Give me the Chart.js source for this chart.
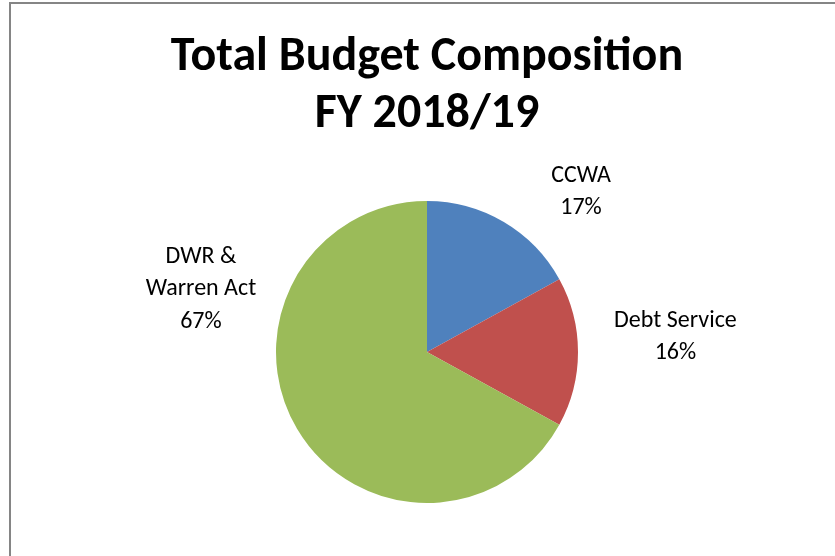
<!DOCTYPE html>
<html>
<head>
<meta charset="utf-8">
<script src="https://cdn.jsdelivr.net/npm/chart.js@4/dist/chart.umd.min.js"></script>
<style>
  html, body { margin: 0; padding: 0; background: #ffffff; overflow: hidden; }
  #wrap { position: relative; width: 835px; height: 556px; }
  #frame { position: absolute; left: 9px; top: 2px; width: 900px; height: 600px;
           border: 2px solid #858585; box-sizing: border-box; pointer-events: none; }
  canvas { position: absolute; left: 0; top: 0; }
</style>
</head>
<body>
<div id="wrap">
  <canvas id="c" width="835" height="556"></canvas>
  <div id="frame"></div>
</div>
<script>
const categories = ["CCWA", "Debt Service", "DWR & Warren Act"];
const labelLines = [["CCWA"], ["Debt Service"], ["DWR &", "Warren Act"]];
const values = [17, 16, 67];
const titleLines = ["Total Budget Composition", "FY 2018/19"];

const colors = ["#4F81BD", "#C0504D", "#9BBB59"];

const outsideLabels = {
  id: "outsideLabels",
  afterDatasetsDraw(chart, args, opts) {
    const ctx = chart.ctx;
    const meta = chart.getDatasetMeta(0);
    const total = values.reduce((a, b) => a + b, 0);
    ctx.save();
    ctx.font = opts.font;
    ctx.fillStyle = "#000000";
    ctx.textAlign = "center";
    ctx.textBaseline = "middle";
    meta.data.forEach((arc, i) => {
      const r = arc.outerRadius;
      const off = opts.offsets[i];
      const cx = arc.x + off[0] * r;
      const cy = arc.y + off[1] * r;
      const lines = labelLines[i].concat([Math.round(values[i] / total * 100) + "%"]);
      const lh = opts.lineHeight;
      const y0 = cy - (lines.length - 1) * lh / 2;
      lines.forEach((t, k) => ctx.fillText(t, cx, y0 + k * lh));
    });
    ctx.restore();
  }
};

new Chart(document.getElementById("c"), {
  type: "pie",
  data: {
    labels: categories,
    datasets: [{
      data: values,
      backgroundColor: colors,
      borderWidth: 0
    }]
  },
  options: {
    responsive: false,
    animation: false,
    layout: { padding: { left: 19, right: 0, top: 0, bottom: 53 } },
    plugins: {
      legend: { display: false },
      tooltip: { enabled: false },
      title: {
        display: true,
        text: titleLines,
        color: "#000000",
        font: { family: "Carlito, Lato, 'Open Sans', sans-serif", size: 48, weight: "bold", lineHeight: 1.1875 },
        padding: { top: 29, bottom: 58 }
      },
      outsideLabels: {
        font: "24px Carlito, Lato, 'Open Sans', sans-serif",
        lineHeight: 32.5,
        offsets: [[1.02, -1.061], [1.645, -0.1], [-1.497, -0.417]]
      }
    }
  },
  plugins: [outsideLabels]
});
</script>
</body>
</html>
